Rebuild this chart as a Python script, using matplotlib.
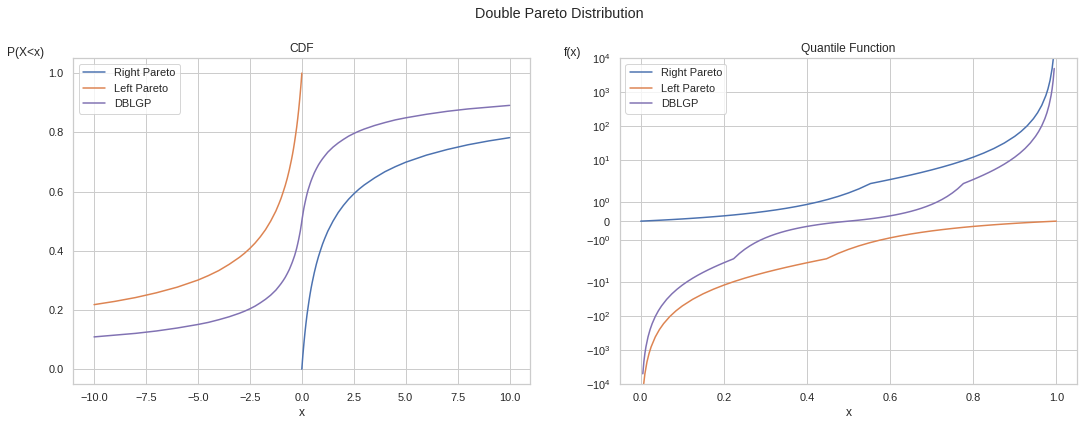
import numpy as np
import matplotlib
matplotlib.use("Agg")
import matplotlib.pyplot as plt
import seaborn as sns

sns.set_theme(style="whitegrid")
plt.rcParams["font.family"] = ["Liberation Sans", "DejaVu Sans"]

# CDF panel, values
x_right = [0, 0.01, 0.02, 0.03, 0.05, 0.07, 0.1, 0.15, 0.2, 0.25,
           0.3, 0.35, 0.4, 0.45, 0.5, 0.6, 0.7, 0.8, 0.9, 1,
           1.1, 1.25, 1.5, 1.75, 2, 2.25, 2.5, 2.75, 3, 3.5,
           4, 4.5, 5, 6, 7, 8, 9, 10]
cdf_right = [0, 0.010, 0.019, 0.029, 0.047, 0.063, 0.087, 0.123, 0.155, 0.184,
             0.209, 0.233, 0.255, 0.275, 0.293, 0.326, 0.355, 0.380, 0.402, 0.423,
             0.441, 0.466, 0.500, 0.529, 0.553, 0.574, 0.592, 0.608, 0.622, 0.646,
             0.667, 0.684, 0.699, 0.723, 0.742, 0.758, 0.771, 0.782]
x_left = [-10, -9, -8, -7, -6, -5, -4.5, -4, -3.5, -3,
          -2.75, -2.5, -2.25, -2, -1.75, -1.5, -1.25, -1.1, -1, -0.9,
          -0.8, -0.7, -0.6, -0.5, -0.45, -0.4, -0.35, -0.3, -0.25, -0.2,
          -0.15, -0.1, -0.07, -0.05, -0.03, -0.02, -0.01, 0]
cdf_left = [0.218, 0.229, 0.242, 0.258, 0.277, 0.301, 0.316, 0.333, 0.354, 0.378,
            0.392, 0.408, 0.426, 0.447, 0.471, 0.500, 0.534, 0.559, 0.577, 0.598,
            0.620, 0.645, 0.674, 0.707, 0.725, 0.745, 0.767, 0.791, 0.816, 0.845,
            0.877, 0.913, 0.937, 0.953, 0.971, 0.981, 0.990, 1.0]
x_dbl = x_left + x_right[1:]
cdf_dbl = [0.109, 0.115, 0.121, 0.129, 0.139, 0.151, 0.158, 0.167, 0.177, 0.189,
           0.196, 0.204, 0.213, 0.224, 0.236, 0.250, 0.267, 0.280, 0.289, 0.299,
           0.310, 0.323, 0.337, 0.354, 0.363, 0.373, 0.383, 0.395, 0.408, 0.423,
           0.439, 0.457, 0.468, 0.477, 0.486, 0.490, 0.495, 0.500,
           0.505, 0.510, 0.514, 0.523, 0.532, 0.544, 0.561, 0.577, 0.592,
           0.605, 0.616, 0.627, 0.637, 0.646, 0.663, 0.677, 0.690, 0.701, 0.711,
           0.720, 0.733, 0.750, 0.764, 0.776, 0.787, 0.796, 0.804, 0.811, 0.823,
           0.833, 0.842, 0.849, 0.861, 0.871, 0.879, 0.885, 0.891]

# Quantile panel
p_right = [0, 0.025, 0.05, 0.075, 0.1, 0.125, 0.15, 0.175, 0.2, 0.225,
           0.25, 0.275, 0.3, 0.325, 0.35, 0.375, 0.4, 0.425, 0.45, 0.475,
           0.5, 0.525, 0.553, 0.575, 0.6, 0.625, 0.65, 0.675, 0.7, 0.725,
           0.75, 0.775, 0.8, 0.825, 0.85, 0.875, 0.9, 0.915, 0.93, 0.945,
           0.955, 0.965, 0.975, 0.98, 0.985, 0.99, 0.993, 0.995]
q_right = [0, 0.026, 0.054, 0.084, 0.117, 0.153, 0.192, 0.235, 0.281, 0.332,
           0.389, 0.451, 0.520, 0.597, 0.683, 0.78, 0.889, 1.012, 1.153, 1.314,
           1.5, 1.716, 2.0, 2.268, 2.625, 3.056, 3.582, 4.234, 5.056, 6.112,
           7.5, 9.377, 12, 15.83, 21.72, 31.5, 49.5, 68.7, 101.5, 164.8,
           246.4, 407.7, 799.5, 1249.5, 2221.7, 4999.5, 10203, 20000]
p_left = [0.005, 0.007, 0.01, 0.015, 0.02, 0.025, 0.035, 0.045, 0.055, 0.07,
          0.085, 0.1, 0.125, 0.15, 0.175, 0.2, 0.225, 0.25, 0.275, 0.3,
          0.325, 0.35, 0.375, 0.4, 0.425, 0.447, 0.475, 0.5, 0.525, 0.55,
          0.575, 0.6, 0.625, 0.65, 0.675, 0.7, 0.725, 0.75, 0.775, 0.8,
          0.825, 0.85, 0.875, 0.9, 0.925, 0.95, 0.975, 1.0]
q_left = [-20000, -10203, -4999.5, -2221.7, -1249.5, -799.5, -407.7, -246.4, -164.8, -101.5,
          -68.7, -49.5, -31.5, -21.72, -15.83, -12, -9.377, -7.5, -6.112, -5.056,
          -4.234, -3.582, -3.056, -2.625, -2.268, -2.0, -1.716, -1.5, -1.314, -1.153,
          -1.012, -0.889, -0.78, -0.683, -0.597, -0.520, -0.451, -0.389, -0.332, -0.281,
          -0.235, -0.192, -0.153, -0.117, -0.084, -0.054, -0.026, 0]
p_dbl_low = [0.005, 0.0075, 0.01, 0.0125, 0.0175, 0.0225, 0.0275, 0.035, 0.0425, 0.05,
             0.0625, 0.075, 0.0875, 0.1, 0.1125, 0.125, 0.1375, 0.15, 0.1625, 0.175,
             0.1875, 0.2, 0.2125, 0.2235, 0.2375, 0.25, 0.2625, 0.275, 0.2875, 0.3,
             0.3125, 0.325, 0.3375, 0.35, 0.3625, 0.375, 0.3875, 0.4, 0.4125, 0.425,
             0.4375, 0.45, 0.4625, 0.475, 0.4875, 0.5]
q_dbl_low = [-4999.5, -2221.7, -1249.5, -799.5, -407.7, -246.4, -164.8, -101.5, -68.7, -49.5,
             -31.5, -21.72, -15.83, -12, -9.377, -7.5, -6.112, -5.056, -4.234, -3.582,
             -3.056, -2.625, -2.268, -2.0, -1.716, -1.5, -1.314, -1.153, -1.012, -0.889,
             -0.78, -0.683, -0.597, -0.520, -0.451, -0.389, -0.332, -0.281, -0.235, -0.192,
             -0.153, -0.117, -0.084, -0.054, -0.026, 0]
p_dbl_high = [0.5125, 0.525, 0.5375, 0.55, 0.5625, 0.575, 0.5875, 0.6, 0.6125, 0.625,
              0.6375, 0.65, 0.6625, 0.675, 0.6875, 0.7, 0.7125, 0.725, 0.7375, 0.75,
              0.7625, 0.7765, 0.7875, 0.8, 0.8125, 0.825, 0.8375, 0.85, 0.8625, 0.875,
              0.8875, 0.9, 0.9125, 0.925, 0.9375, 0.95, 0.9575, 0.965, 0.9725, 0.9775,
              0.9825, 0.9875, 0.99, 0.9925, 0.995]
q_dbl_high = [0.026, 0.054, 0.084, 0.117, 0.153, 0.192, 0.235, 0.281, 0.332, 0.389,
              0.451, 0.520, 0.597, 0.683, 0.78, 0.889, 1.012, 1.153, 1.314, 1.5,
              1.716, 2.0, 2.268, 2.625, 3.056, 3.582, 4.234, 5.056, 6.112, 7.5,
              9.377, 12, 15.83, 21.72, 31.5, 49.5, 68.7, 101.5, 164.8, 246.4,
              407.7, 799.5, 1249.5, 2221.7, 4999.5]
p_dbl = p_dbl_low + p_dbl_high
q_dbl = q_dbl_low + q_dbl_high

blue, orange, purple = "#4C72B0", "#DD8452", "#8172B3"

fig, (ax1, ax2) = plt.subplots(1, 2, figsize=(1084 / 72, 425 / 72), dpi=72)
fig.subplots_adjust(left=0.0676, right=0.9936, bottom=0.0965, top=0.8628, wspace=0.196)
fig.suptitle("Double Pareto Distribution", x=0.5157, y=0.983)

ax1.plot(x_right, cdf_right, color=blue, label="Right Pareto")
ax1.plot(x_left, cdf_left, color=orange, label="Left Pareto")
ax1.plot(x_dbl, cdf_dbl, color=purple, label="DBLGP")
ax1.set_title("CDF")
ax1.set_xlabel("x")
ax1.set_ylabel("P(X<x)", rotation=0, ha="center", va="center")
ax1.yaxis.set_label_coords(-0.104, 1.015)
ax1.legend(loc="upper left")

ax2.plot(p_right, q_right, color=blue, label="Right Pareto")
ax2.plot(p_left, q_left, color=orange, label="Left Pareto")
ax2.plot(p_dbl, q_dbl, color=purple, label="DBLGP")
ax2.set_yscale("symlog", linthresh=2)
ax2.set_ylim(-1e4, 1e4)
ax2.set_title("Quantile Function")
ax2.set_xlabel("x")
ax2.set_ylabel("f(x)", rotation=0, ha="center", va="center")
ax2.yaxis.set_label_coords(-0.104, 1.015)
ax2.legend(loc="upper left")

fig.savefig("out.png", dpi=72)
